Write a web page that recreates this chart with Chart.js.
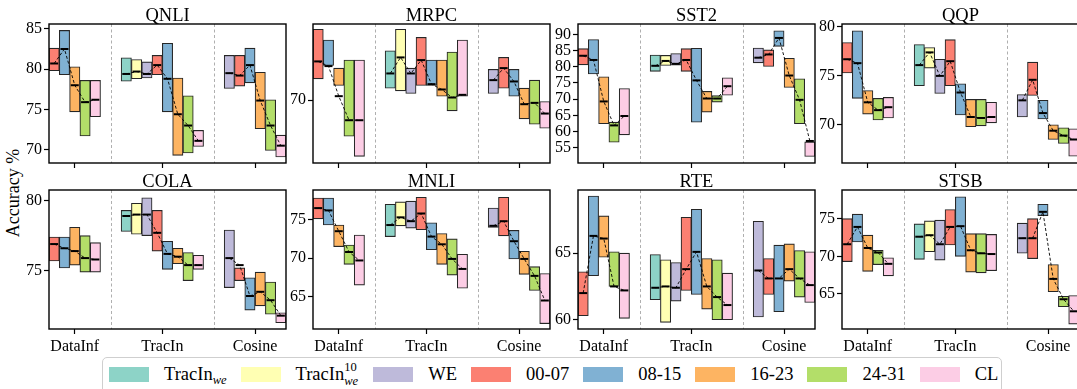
<!DOCTYPE html>
<html>
<head>
<meta charset="utf-8">
<script src="https://cdn.jsdelivr.net/npm/chart.js@4.4.1/dist/chart.umd.min.js"></script>
<style>
  html, body { margin: 0; padding: 0; background: #fff; overflow: hidden; }
  #wrap { position: relative; width: 1077px; height: 389px; overflow: hidden; font-family: 'Liberation Serif', serif; color: #000; }
  #wrap canvas { position: absolute; }
  #ylabel { position: absolute; left: -47.5px; top: 181.5px; width: 120px; height: 22px; line-height: 22px;
    text-align: center; font-size: 18px; transform: rotate(-90deg); white-space: nowrap; }
  #legend { position: absolute; left: 102px; top: 357px; width: 900px; height: 46px; box-sizing: border-box;
    border: 1px solid #cfcfcf; border-radius: 5px; background: #fff;
    display: flex; align-items: flex-start; padding: 8px 0 0 6px; font-size: 18.5px; }
  .item { display: flex; align-items: center; height: 16px; }
  .patch { width: 40px; height: 15px; margin-right: 15px; }
  .lab { margin-right: 14px; line-height: 16px; white-space: nowrap; }
  .lab sub { font-size: 12.5px; font-style: italic; vertical-align: -4px; line-height: 0; }
  .ss { position: relative; display: inline-block; width: 15px; height: 10px; }
  .ss .up { position: absolute; left: 0; top: -9px; font-size: 12.5px; line-height: 1; }
  .ss .dn { position: absolute; left: 0; top: 5px; font-size: 12.5px; line-height: 1; font-style: italic; }
</style>
</head>
<body>
<div id="wrap">
  <div id="ylabel">Accuracy %</div>
  <div id="legend"></div>
</div>
<script>
// series / colours (matplotlib Set3)
const series = ['TracIn_we', 'TracIn10_we', 'WE', '00-07', '08-15', '16-23', '24-31', 'CL'];
const seriesLabels = ['TracIn<sub>we</sub>', 'TracIn<span class="ss"><span class="up">10</span><span class="dn">we</span></span>', 'WE', '00-07', '08-15', '16-23', '24-31', 'CL'];
const seriesColors = ['#8dd3c7', '#ffffb3', '#bebada', '#fb8072', '#80b1d3', '#fdb462', '#b3de69', '#fccde5'];

// x groups and which series each one shows
const methods = ['DataInf', 'TracIn', 'Cosine'];
const methodSeries = [[3, 4, 5, 6, 7], [0, 1, 2, 3, 4, 5, 6, 7], [2, 3, 4, 5, 6, 7]];

const tasks = ['QNLI', 'MRPC', 'SST2', 'QQP', 'COLA', 'MNLI', 'RTE', 'STSB'];

// values in slot order: DataInf(5), TracIn(8), Cosine(6)
const qnliLo   = [79.8, 79.3, 74.7, 71.7, 74.1, 78.5, 78.8, 78.9, 79.3, 74.7, 69.3, 69.6, 70.4, 77.6, 77.9, 78.3, 72.6, 69.9, 69.1];
const qnliHi   = [82.6, 84.8, 80.3, 78.6, 78.6, 81.4, 81.2, 80.9, 81.7, 83.2, 78.9, 76.7, 72.4, 81.7, 81.7, 82.6, 79.6, 76.2, 71.8];
const qnliMean = [80.7, 82.5, 78.0, 75.9, 76.2, 79.4, 79.7, 79.4, 80.5, 78.8, 74.4, 73.0, 71.1, 79.5, 79.2, 80.5, 76.1, 73.0, 70.5];
const qnliTicks = [70, 75, 80, 85];

const mrpcLo   = [71.6, 72.6, 71.1, 67.3, 65.8, 70.9, 70.7, 70.5, 71.1, 71.1, 70.3, 69.2, 70.3, 70.5, 70.9, 70.3, 68.6, 68.2, 67.9];
const mrpcHi   = [75.3, 74.5, 72.4, 73.0, 73.0, 73.7, 75.3, 72.4, 74.7, 73.0, 73.0, 73.6, 74.5, 72.3, 73.2, 72.3, 70.9, 71.5, 69.9];
const mrpcMean = [72.9, 72.55, 70.3, 68.5, 68.5, 72.0, 73.2, 72.0, 73.0, 71.2, 70.8, 70.2, 70.4, 71.5, 72.4, 71.4, 69.7, 69.8, 69.0];
const mrpcTicks = [70];

const sst2Lo   = [80.6, 77.8, 62.4, 56.7, 59.0, 78.6, 80.4, 80.5, 78.6, 62.9, 66.0, 69.1, 71.2, 81.2, 80.1, 86.3, 73.6, 62.4, 52.3];
const sst2Hi   = [85.6, 88.4, 76.9, 62.9, 73.3, 83.6, 83.5, 84.1, 85.6, 85.7, 72.4, 71.1, 76.6, 85.8, 85.2, 91.1, 82.6, 76.3, 56.8];
const sst2Mean = [83.4, 82.1, 69.3, 61.9, 64.8, 80.3, 81.8, 80.9, 82.1, 75.8, 70.2, 70.2, 74.0, 82.8, 83.8, 88.9, 77.3, 69.8, 57.1];
const sst2Ticks = [55, 60, 65, 70, 75, 80, 85, 90];

const qqpLo   = [75.3, 72.7, 71.1, 70.5, 70.7, 74.0, 75.8, 73.2, 74.0, 71.0, 69.8, 69.9, 70.2, 70.8, 73.0, 70.6, 68.5, 68.1, 66.8];
const qqpHi   = [78.4, 79.6, 73.5, 72.7, 72.8, 78.2, 77.9, 76.7, 78.7, 74.2, 72.6, 72.6, 72.3, 73.1, 76.4, 72.5, 70.0, 69.7, 69.6];
const qqpMean = [76.7, 76.3, 72.3, 71.5, 71.8, 76.1, 77.4, 75.0, 76.5, 73.3, 70.8, 70.7, 70.8, 72.5, 74.6, 71.2, 69.4, 68.9, 68.5];
const qqpTicks = [70, 75, 80];

const colaLo   = [75.7, 75.2, 75.4, 74.9, 74.9, 77.8, 77.6, 77.5, 76.4, 75.1, 75.5, 74.3, 75.1, 73.8, 74.3, 72.2, 72.5, 71.9, 71.3];
const colaHi   = [77.4, 77.4, 78.1, 77.5, 77.0, 79.3, 79.8, 80.2, 79.3, 77.1, 76.6, 76.3, 76.1, 77.9, 75.2, 74.5, 74.9, 74.2, 72.0];
const colaMean = [76.9, 76.6, 76.4, 75.9, 75.8, 78.9, 79.0, 79.0, 77.7, 76.2, 76.0, 75.4, 75.4, 75.9, 75.4, 73.2, 73.5, 72.9, 71.8];
const colaTicks = [75, 80];

const mnliLo   = [75.1, 74.3, 71.5, 69.2, 66.5, 72.8, 74.2, 73.9, 73.7, 71.1, 69.2, 67.8, 66.1, 74.0, 72.9, 69.9, 67.9, 65.8, 61.5];
const mnliHi   = [77.8, 77.8, 74.3, 71.7, 73.0, 77.0, 77.3, 77.4, 77.9, 74.6, 73.2, 72.5, 70.5, 76.5, 77.9, 73.6, 70.9, 68.9, 68.0];
const mnliMean = [76.5, 76.2, 73.5, 70.8, 69.7, 74.3, 75.3, 74.8, 75.8, 72.8, 71.8, 69.9, 68.6, 74.2, 74.8, 72.2, 69.9, 67.7, 64.5];
const mnliTicks = [65, 70, 75];

const rteLo   = [60.3, 63.3, 64.7, 62.5, 60.1, 61.5, 59.8, 61.4, 62.2, 61.9, 60.8, 60.0, 60.0, 60.2, 61.9, 60.6, 62.9, 61.7, 61.3];
const rteHi   = [63.6, 69.3, 67.8, 65.1, 65.0, 64.9, 64.5, 64.3, 67.7, 68.3, 64.6, 64.5, 63.5, 67.4, 64.6, 65.6, 65.7, 65.2, 65.1];
const rteMean = [62.0, 66.3, 66.1, 62.5, 62.2, 62.4, 62.5, 62.4, 63.8, 65.1, 62.5, 61.7, 61.1, 63.7, 63.1, 63.1, 63.8, 63.1, 62.6];
const rteTicks = [60, 65];

const stsbLo   = [69.3, 71.9, 68.0, 68.9, 67.4, 69.6, 70.6, 69.5, 71.5, 70.0, 67.9, 67.8, 68.1, 70.4, 69.7, 75.4, 65.3, 63.3, 61.0];
const stsbHi   = [75.0, 75.6, 72.8, 70.8, 69.8, 74.3, 74.7, 74.8, 76.2, 77.9, 73.0, 73.0, 72.9, 74.4, 75.0, 76.9, 68.9, 64.7, 64.8];
const stsbMean = [71.6, 73.9, 71.1, 70.5, 69.0, 72.6, 72.8, 71.6, 73.9, 74.0, 70.8, 70.4, 70.3, 72.4, 72.4, 75.9, 67.0, 64.3, 62.7];
const stsbTicks = [65, 70, 75];

// y axis limits per task
const yMin = [68.35, 65.3, 50.3, 66.1, 70.85, 60.8, 59.3, 60.35];
const yMax = [85.6, 75.7, 93.2, 80.3, 80.75, 78.85, 69.75, 78.8];

const taskData = {
  QNLI: [qnliLo, qnliHi, qnliMean, qnliTicks],
  MRPC: [mrpcLo, mrpcHi, mrpcMean, mrpcTicks],
  SST2: [sst2Lo, sst2Hi, sst2Mean, sst2Ticks],
  QQP:  [qqpLo, qqpHi, qqpMean, qqpTicks],
  COLA: [colaLo, colaHi, colaMean, colaTicks],
  MNLI: [mnliLo, mnliHi, mnliMean, mnliTicks],
  RTE:  [rteLo, rteHi, rteMean, rteTicks],
  STSB: [stsbLo, stsbHi, stsbMean, stsbTicks]
};

// slot layout on the x axis (one unit per bar, gaps between methods)
const methodStart = [0, 7, 17];
const xMax = 23;
const separators = [6, 16];
const methodCenter = methodStart.map((s, g) => s + methodSeries[g].length / 2);

// page layout
const FONT = "'Liberation Serif', serif";
const PLOT_W = 237, PLOT_H = 139, AXIS_W = 48, TOP_PAD = 26, BOTTOM_H = 32;
const colLeft = c => 49 + 264.3 * c;
const rowTop = [24.3, 190.3];

const panelDeco = {
  id: 'panelDeco',
  beforeDatasetsDraw(chart) {
    const { ctx, chartArea: a, scales: { x } } = chart;
    ctx.save();
    ctx.strokeStyle = '#9a9a9a';
    ctx.lineWidth = 0.8;
    ctx.setLineDash([3, 2.5]);
    separators.forEach(v => {
      const px = Math.round(x.getPixelForValue(v)) + 0.5;
      ctx.beginPath();
      ctx.moveTo(px, a.top);
      ctx.lineTo(px, a.bottom);
      ctx.stroke();
    });
    ctx.restore();
  },
  afterDatasetsDraw(chart, args, opts) {
    const { ctx, chartArea: a } = chart;
    ctx.save();
    ctx.strokeStyle = '#000';
    ctx.lineWidth = 1.4;
    ctx.strokeRect(a.left, a.top, a.right - a.left, a.bottom - a.top);
    ctx.fillStyle = '#000';
    ctx.font = '18.5px ' + FONT;
    ctx.textAlign = 'center';
    ctx.textBaseline = 'alphabetic';
    ctx.fillText(opts.title, (a.left + a.right) / 2, a.top - 3.5);
    ctx.restore();
  }
};

const wrap = document.getElementById('wrap');

tasks.forEach((task, idx) => {
  const [lo, hi, mean, yTicks] = taskData[task];
  const col = idx % 4, row = Math.floor(idx / 4);

  const canvas = document.createElement('canvas');
  canvas.width = AXIS_W * 2 + PLOT_W;
  canvas.height = TOP_PAD + PLOT_H + BOTTOM_H;
  canvas.style.left = (colLeft(col) - AXIS_W) + 'px';
  canvas.style.top = (rowTop[row] - TOP_PAD) + 'px';
  wrap.appendChild(canvas);

  const barSets = series.map((name, s) => ({
    type: 'bar', label: name, data: [], order: 1,
    backgroundColor: seriesColors[s], borderColor: '#262626', borderWidth: 1.1, borderSkipped: false
  }));
  const meanPts = [];
  let k = 0;
  methodSeries.forEach((list, g) => {
    if (g > 0) meanPts.push({ x: separators[g - 1], y: null });
    list.forEach((s, j) => {
      const x = methodStart[g] + j + 0.5;
      barSets[s].data.push({ x, y: [lo[k], hi[k]] });
      meanPts.push({ x, y: mean[k] });
      k++;
    });
  });

  const meanSet = {
    type: 'line', label: 'mean', data: meanPts, order: 0,
    borderColor: '#000', borderWidth: 0.9, borderDash: [3, 2], spanGaps: false, tension: 0,
    pointStyle: 'line', pointRadius: 4, pointBorderWidth: 2, pointBorderColor: '#000', pointBackgroundColor: '#000'
  };

  new Chart(canvas, {
    type: 'bar',
    data: { datasets: [meanSet, ...barSets] },
    options: {
      responsive: false, animation: false, devicePixelRatio: 1,
      layout: { padding: { top: TOP_PAD, right: AXIS_W, left: 0, bottom: 0 } },
      datasets: { bar: { grouped: false, barPercentage: 1, categoryPercentage: 1 } },
      plugins: { legend: { display: false }, tooltip: { enabled: false }, panelDeco: { title: task } },
      scales: {
        x: {
          type: 'linear', min: 0, max: xMax, offset: false,
          grid: { offset: false, drawOnChartArea: false, drawTicks: true, tickLength: 5, tickColor: '#000', tickWidth: 1.2 },
          border: { display: false },
          ticks: { color: '#000', font: { family: FONT, size: 16 }, padding: 3, maxRotation: 0, autoSkip: false,
            callback: (v, i) => row === 1 ? methods[i] : '' },
          afterBuildTicks: s => { s.ticks = methodCenter.map(v => ({ value: v })); },
          afterFit: s => { s.height = BOTTOM_H; }
        },
        y: {
          min: yMin[idx], max: yMax[idx],
          grid: { drawOnChartArea: false, drawTicks: true, tickLength: 5, tickColor: '#000', tickWidth: 1.2 },
          border: { display: false },
          ticks: { color: '#000', font: { family: FONT, size: 16 }, padding: 2, autoSkip: false },
          afterBuildTicks: s => { s.ticks = yTicks.map(v => ({ value: v })); },
          afterFit: s => { s.width = AXIS_W; }
        }
      }
    },
    plugins: [panelDeco]
  });
});

// legend
const legend = document.getElementById('legend');
series.forEach((name, s) => {
  const item = document.createElement('div');
  item.className = 'item';
  item.innerHTML = '<div class="patch" style="background:' + seriesColors[s] + '"></div><span class="lab">' + seriesLabels[s] + '</span>';
  legend.appendChild(item);
});
</script>
</body>
</html>
